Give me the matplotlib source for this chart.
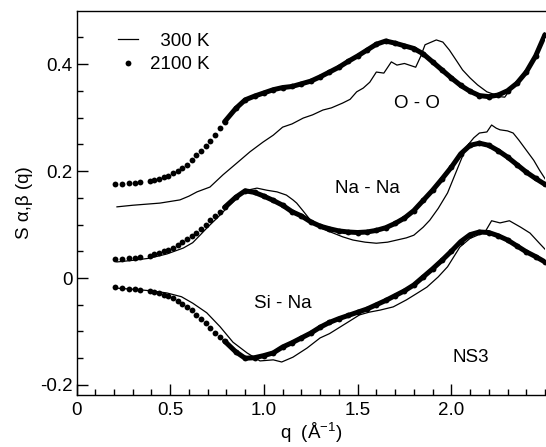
import matplotlib
matplotlib.use('Agg')
import matplotlib.pyplot as plt
from matplotlib.lines import Line2D
from matplotlib.ticker import MultipleLocator

plt.rcParams['font.family'] = ['Liberation Sans', 'DejaVu Sans']
plt.rcParams['mathtext.default'] = 'regular'
plt.rcParams['axes.unicode_minus'] = False

# 2100 K (dots) - shared q grid
q_hot = [0.205, 0.243, 0.28, 0.31, 0.34, 0.39, 0.415, 0.44, 0.465, 0.49, 0.515,
         0.54, 0.565, 0.59, 0.615, 0.64, 0.665, 0.69, 0.715, 0.74, 0.765, 0.79,
         0.85, 0.9, 0.95, 1.0, 1.05, 1.1, 1.15, 1.2, 1.25, 1.3, 1.35, 1.4, 1.45,
         1.5, 1.55, 1.6, 1.65, 1.7, 1.75, 1.8, 1.85, 1.9, 1.95, 2.0, 2.05, 2.1,
         2.15, 2.2, 2.25, 2.3, 2.35, 2.4, 2.45, 2.5]
oo_hot = [0.176, 0.176, 0.177, 0.178, 0.179, 0.181, 0.183, 0.185, 0.188, 0.191, 0.196,
          0.200, 0.205, 0.212, 0.220, 0.229, 0.238, 0.246, 0.256, 0.268, 0.281, 0.292,
          0.317, 0.333, 0.340, 0.346, 0.352, 0.356, 0.358, 0.363, 0.368, 0.376, 0.385,
          0.394, 0.405, 0.415, 0.426, 0.437, 0.443, 0.439, 0.434, 0.429, 0.419, 0.404,
          0.389, 0.374, 0.360, 0.349, 0.341, 0.339, 0.342, 0.350, 0.364, 0.385, 0.415, 0.455]
nana_hot = [0.036, 0.036, 0.037, 0.038, 0.039, 0.041, 0.044, 0.047, 0.050, 0.053, 0.057,
            0.062, 0.067, 0.072, 0.078, 0.085, 0.092, 0.100, 0.109, 0.116, 0.123, 0.132,
            0.151, 0.163, 0.160, 0.153, 0.145, 0.136, 0.124, 0.116, 0.105, 0.097, 0.092,
            0.088, 0.086, 0.085, 0.086, 0.089, 0.094, 0.102, 0.112, 0.126, 0.145, 0.164,
            0.185, 0.207, 0.232, 0.248, 0.252, 0.248, 0.238, 0.226, 0.212, 0.198, 0.186, 0.175]
sina_hot = [-0.017, -0.018, -0.020, -0.021, -0.022, -0.024, -0.026, -0.028, -0.031, -0.034, -0.038,
            -0.043, -0.048, -0.054, -0.060, -0.069, -0.077, -0.085, -0.094, -0.102, -0.110, -0.118,
            -0.138, -0.150, -0.149, -0.145, -0.140, -0.129, -0.121, -0.112, -0.103, -0.092, -0.083,
            -0.076, -0.070, -0.064, -0.058, -0.050, -0.042, -0.033, -0.024, -0.013, 0.002, 0.017,
            0.033, 0.050, 0.068, 0.081, 0.086, 0.085, 0.079, 0.071, 0.060, 0.049, 0.040, 0.030]

# 300 K (thin lines)
q_oo_cold = [0.216, 0.30, 0.445, 0.552, 0.60, 0.643, 0.712, 0.782, 0.856, 0.926, 0.995,
             1.05, 1.10, 1.15, 1.21, 1.26, 1.315, 1.36, 1.42, 1.46, 1.495, 1.53, 1.565,
             1.60, 1.64, 1.68, 1.71, 1.75, 1.81, 1.835, 1.86, 1.92, 1.955, 1.99, 2.03,
             2.06, 2.10, 2.14, 2.19, 2.23, 2.26, 2.285, 2.31, 2.35, 2.40, 2.45, 2.50]
oo_cold = [0.133, 0.136, 0.140, 0.146, 0.153, 0.161, 0.170, 0.193, 0.215, 0.236, 0.254,
           0.267, 0.282, 0.288, 0.299, 0.305, 0.314, 0.318, 0.327, 0.334, 0.348, 0.355, 0.366,
           0.385, 0.383, 0.404, 0.398, 0.401, 0.394, 0.413, 0.436, 0.445, 0.441, 0.426, 0.405,
           0.389, 0.374, 0.361, 0.348, 0.343, 0.339, 0.338, 0.350, 0.365, 0.387, 0.417, 0.457]

q_nana_cold = [0.216, 0.30, 0.39, 0.483, 0.57, 0.62, 0.659, 0.70, 0.75, 0.80, 0.835,
               0.87, 0.91, 0.963, 1.017, 1.07, 1.12, 1.155, 1.175, 1.21, 1.26, 1.31, 1.37,
               1.42, 1.475, 1.54, 1.60, 1.66, 1.71, 1.76, 1.80, 1.85, 1.885, 1.93, 1.98,
               2.03, 2.08, 2.12, 2.15, 2.19, 2.215, 2.24, 2.26, 2.30, 2.33, 2.36, 2.40,
               2.44, 2.47, 2.505]
nana_cold = [0.030, 0.033, 0.037, 0.045, 0.056, 0.066, 0.080, 0.095, 0.112, 0.130, 0.142,
             0.155, 0.164, 0.168, 0.164, 0.161, 0.155, 0.146, 0.140, 0.125, 0.103, 0.092, 0.084,
             0.077, 0.071, 0.067, 0.065, 0.067, 0.071, 0.075, 0.080, 0.095, 0.108, 0.130, 0.159,
             0.202, 0.245, 0.262, 0.271, 0.273, 0.286, 0.280, 0.277, 0.275, 0.271, 0.258, 0.239,
             0.220, 0.202, 0.183]

q_sina_cold = [0.216, 0.30, 0.40, 0.483, 0.56, 0.62, 0.695, 0.766, 0.835, 0.91, 0.979,
               1.05, 1.095, 1.155, 1.23, 1.30, 1.35, 1.405, 1.46, 1.51, 1.56, 1.62, 1.69,
               1.76, 1.82, 1.87, 1.93, 1.98, 2.046, 2.10, 2.14, 2.18, 2.20, 2.215, 2.26,
               2.31, 2.37, 2.42, 2.47, 2.505]
sina_cold = [-0.019, -0.021, -0.024, -0.028, -0.035, -0.047, -0.065, -0.091, -0.120, -0.140, -0.155,
             -0.153, -0.157, -0.148, -0.131, -0.112, -0.104, -0.092, -0.080, -0.069, -0.064, -0.060, -0.054,
             -0.041, -0.028, -0.017, 0.002, 0.021, 0.058, 0.074, 0.080, 0.086, 0.098, 0.107, 0.103,
             0.107, 0.095, 0.084, 0.065, 0.052]

fig = plt.figure(figsize=(5.46, 4.47), dpi=100)
ax = fig.add_axes([76.5 / 546, 52 / 447, 468.5 / 546, 384 / 447])

n_dots = 21  # dots merge into a solid line beyond this index
for q, s in [(q_oo_cold, oo_cold), (q_nana_cold, nana_cold), (q_sina_cold, sina_cold)]:
    ax.plot(q, s, color='black', lw=0.9)
for s in [oo_hot, nana_hot, sina_hot]:
    ax.plot(q_hot, s, 'o', color='black', ms=4.2, mew=0)
    ax.plot(q_hot[n_dots:], s[n_dots:], '-', color='black', lw=3.6, solid_capstyle='round')

ax.text(1.817, 0.327, 'O - O', ha='center', va='center', fontsize=13.5)
ax.text(1.555, 0.168, 'Na - Na', ha='center', va='center', fontsize=13.5)
ax.text(1.10, -0.047, 'Si - Na', ha='center', va='center', fontsize=13.5)
ax.text(2.105, -0.148, 'NS3', ha='center', va='center', fontsize=13.5)

handles = [Line2D([], [], color='black', lw=0.9),
           Line2D([], [], color='black', marker='o', ls='none', ms=4.2, mew=0)]
ax.legend(handles, ['\u2007300 K', '2100 K'], loc='upper left', bbox_to_anchor=(0.06, 0.978),
          frameon=False, fontsize=13.5, handlelength=1.1, handletextpad=0.6,
          labelspacing=0.35, borderpad=0.2)

ax.set_xlim(0, 2.5)
ax.set_ylim(-0.2187, 0.4991)
ax.set_xticks([0, 0.5, 1.0, 1.5, 2.0])
ax.set_xticklabels(['0', '0.5', '1.0', '1.5', '2.0'])
ax.set_yticks([-0.2, 0, 0.2, 0.4])
ax.set_yticklabels(['-0.2', '0', '0.2', '0.4'])
ax.xaxis.set_minor_locator(MultipleLocator(0.1))
ax.yaxis.set_minor_locator(MultipleLocator(0.05))
ax.tick_params(which='both', direction='in', labelsize=13.5, width=1.0)
ax.tick_params(which='major', length=8)
ax.tick_params(which='minor', length=4.5)
ax.tick_params(axis='x', pad=5)
ax.tick_params(axis='y', pad=3)
ax.spines['right'].set_visible(False)
for sp in ['left', 'bottom', 'top']:
    ax.spines[sp].set_linewidth(1.0)

ax.set_xlabel('q  (Å$^{-1}$)', fontsize=13.5, labelpad=1.5)
ax.set_ylabel('S α,β (q)', fontsize=13.5, labelpad=5)

fig.savefig('out.png', dpi=100)
